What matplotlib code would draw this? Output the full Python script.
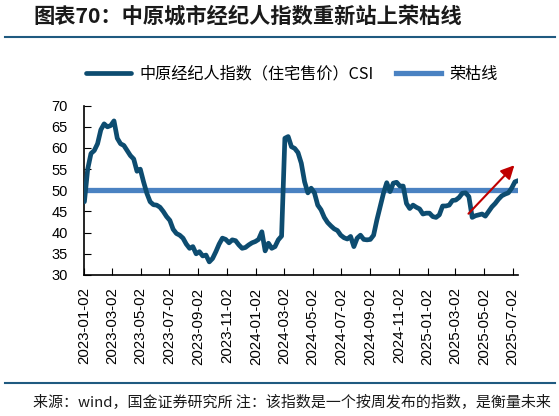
import matplotlib
matplotlib.use("Agg")
import matplotlib.pyplot as plt
import pandas as pd

plt.rcParams['font.family'] = ['Liberation Sans', 'Noto Sans CJK SC', 'DejaVu Sans']

# weekly CSI readings, first week 2023-01-02
csi = [47.3, 55.0, 58.7, 59.4, 61.0, 64.3, 65.7, 65.0, 65.3, 66.4,
       62.3, 61.0, 60.6, 59.4, 58.2, 57.4, 54.5, 55.0, 52.0, 49.3,
       47.3, 46.6, 46.5, 46.0, 45.0, 43.8, 42.9, 40.8, 39.8, 39.4,
       38.7, 37.3, 36.3, 36.7, 35.0, 35.5, 34.5, 34.7, 33.1, 33.9,
       35.5, 37.3, 38.7, 38.4, 37.6, 38.3, 38.1, 37.1, 36.3, 36.5,
       37.1, 37.6, 37.9, 38.4, 40.2, 35.7, 37.5, 36.3, 36.7, 38.3,
       39.2, 62.3, 62.7, 60.3, 59.9, 58.9, 56.4, 52.0, 49.4, 50.5,
       49.4, 46.5, 45.4, 43.6, 42.4, 41.6, 40.9, 40.5, 39.4, 38.8,
       38.5, 39.1, 36.7, 38.7, 39.4, 38.4, 38.3, 38.4, 39.4, 43.0,
       46.1, 49.3, 51.8, 49.7, 51.7, 51.9, 51.0, 51.0, 46.9, 45.7,
       46.5, 46.0, 45.6, 44.4, 44.6, 44.6, 43.8, 43.6, 44.2, 46.3,
       46.3, 46.5, 47.6, 47.7, 48.3, 49.3, 49.4, 48.5, 43.6, 44.0,
       44.2, 44.4, 43.9, 45.0, 46.1, 46.9, 47.9, 48.7, 49.1, 49.4,
       50.5, 52.0, 52.3]
weeks = pd.date_range('2023-01-02', periods=len(csi), freq='7D')
boom_bust = 50

tick_labels = ['2023-01-02', '2023-03-02', '2023-05-02', '2023-07-02',
               '2023-09-02', '2023-11-02', '2024-01-02', '2024-03-02',
               '2024-05-02', '2024-07-02', '2024-09-02', '2024-11-02',
               '2025-01-02', '2025-03-02', '2025-05-02', '2025-07-02']
yticks = [30, 35, 40, 45, 50, 55, 60, 65, 70]

arrow_from = (pd.Timestamp('2025-03-26'), 44.0)
arrow_to = (pd.Timestamp('2025-07-10'), 56.4)

title = '图表70：中原城市经纪人指数重新站上荣枯线'
footer = '来源：wind，国金证券研究所 注：该指数是一个按周发布的指数，是衡量未来'

fig = plt.figure(figsize=(5.59, 4.16), dpi=100)
ax = fig.add_axes([0.151, 0.339, 0.776, 0.407])

ax.plot(weeks, csi, color='#0d4c70', lw=3.4, solid_capstyle='round',
        label='中原经纪人指数（住宅售价）CSI', zorder=3)
ax.axhline(boom_bust, color='#4a82c2', lw=3.8, label='荣枯线', zorder=2)
ax.annotate('', xy=arrow_to, xytext=arrow_from,
            arrowprops=dict(arrowstyle='-|>,head_length=0.8,head_width=0.4',
                            color='#c00000', lw=1.5), zorder=4)

ax.set_ylim(30, 70)
ax.set_yticks(yticks)
ax.set_xlim(pd.Timestamp('2023-01-02'), pd.Timestamp('2025-07-14'))
ax.set_xticks(pd.to_datetime(tick_labels))
ax.set_xticklabels(tick_labels, rotation=90)
ax.tick_params(axis='x', direction='in', length=5, labelsize=10.8, pad=9)
ax.tick_params(axis='y', direction='in', length=5, labelsize=10.5, pad=12)
for s in ['top', 'right']:
    ax.spines[s].set_visible(False)
for s in ['left', 'bottom']:
    ax.spines[s].set_linewidth(1.2)

ax.legend(loc='center', bbox_to_anchor=(0.522, 0.822), bbox_transform=fig.transFigure,
          ncol=2, frameon=False, handlelength=2.8, handletextpad=0.5,
          columnspacing=1.4, prop={'family': ['Noto Sans CJK SC', 'DejaVu Sans'], 'size': 11.6})

fig.text(0.059, 0.962, title, fontsize=15.3, fontweight='bold', color='#1a1a1a',
         family=['Noto Sans CJK SC'], va='center', ha='left')
fig.add_artist(plt.Line2D([0.009, 0.993], [0.911, 0.911], color='#1f5a80', lw=1.5))
fig.add_artist(plt.Line2D([0.009, 0.993], [0.079, 0.079], color='#1f5a80', lw=1.5))
fig.text(0.059, 0.032, footer, fontsize=10.8, color='#1a1a1a',
         family=['Noto Sans CJK SC'], va='center', ha='left')

fig.savefig('out.png', dpi=100)
